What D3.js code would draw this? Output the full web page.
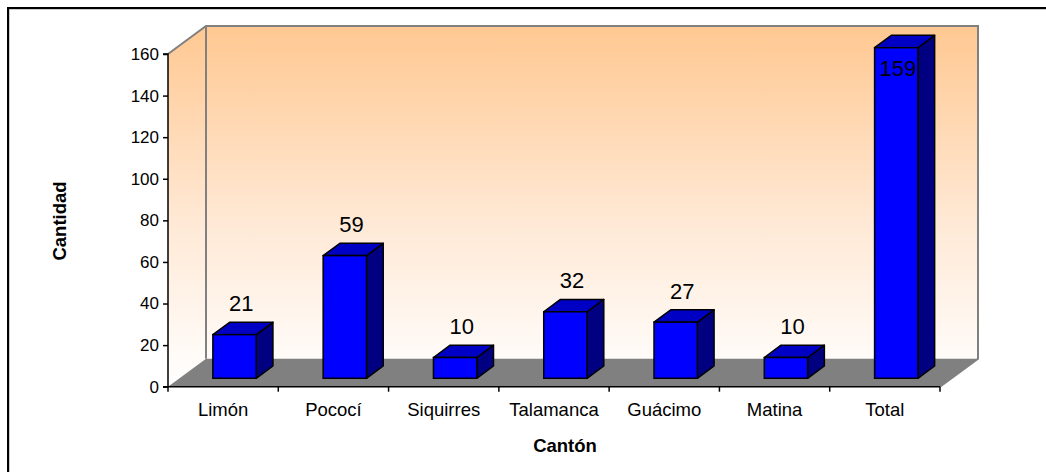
<!DOCTYPE html>
<html><head><meta charset="utf-8">
<script src="https://cdn.jsdelivr.net/npm/d3@7"></script>
<style>
html,body{margin:0;padding:0;background:#fff;}
svg{display:block;font-family:"Liberation Sans",Arial,sans-serif;}
</style></head>
<body>
<svg id="c" width="1046" height="472"></svg>
<script>
const categories = ["Limón","Pococí","Siquirres","Talamanca","Guácimo","Matina","Total"];
const values = [21, 59, 10, 32, 27, 10, 159];
const yTicks = [0,20,40,60,80,100,120,140,160];
const xTitle = "Cantón";
const yTitle = "Cantidad";

const svg = d3.select("#c");
const L = 168, R = 940, B = 386.7, T = 54;
const DX = 38, DY = -28;          // depth of plot box
const x = d3.scaleBand().domain(categories).range([L, R]).paddingInner(0).paddingOuter(0);
const y = d3.scaleLinear().domain([0,160]).range([B, T]);

// outer frame
svg.append("rect").attr("x",9).attr("y",9).attr("width",1060).attr("height",500)
  .attr("fill","none").attr("stroke","#999").attr("stroke-width",1);
svg.append("rect").attr("x",8).attr("y",8).attr("width",1060).attr("height",500)
  .attr("fill","none").attr("stroke","#000").attr("stroke-width",2);

// gradient
const defs = svg.append("defs");
const g1 = defs.append("linearGradient").attr("id","wall").attr("gradientUnits","userSpaceOnUse")
  .attr("x1",0).attr("y1",T+DY).attr("x2",0).attr("y2",B);
g1.append("stop").attr("offset",0).attr("stop-color","#ffc891");
g1.append("stop").attr("offset",0.55).attr("stop-color","#ffe9d6");
g1.append("stop").attr("offset",1).attr("stop-color","#ffffff");

const line = d3.line();
// side wall
svg.append("path").attr("d", line([[L,T],[L+DX,T+DY],[L+DX,B+DY],[L,B]])+"Z")
  .attr("fill","url(#wall)").attr("stroke","none");
// back wall
svg.append("path").attr("d", line([[L+DX,T+DY],[R+DX,T+DY],[R+DX,B+DY],[L+DX,B+DY]])+"Z")
  .attr("fill","url(#wall)").attr("stroke","none");
// floor
svg.append("path").attr("d", line([[L,B],[L+DX,B+DY],[R+DX,B+DY],[R,B]])+"Z")
  .attr("fill","#808080").attr("stroke","none");
// wall edges
const edge = "#808080";
svg.append("path").attr("d", line([[L,T],[L+DX,T+DY],[R+DX,T+DY],[R+DX,B+DY],[R,B]]))
  .attr("fill","none").attr("stroke",edge).attr("stroke-width",2);
svg.append("path").attr("d", line([[L+DX,T+DY],[L+DX,B+DY]]))
  .attr("fill","none").attr("stroke",edge).attr("stroke-width",2);

// bars
const bw = x.bandwidth()*0.393;
const f0 = 0.3, f1 = 0.74;
const ox0 = DX*f0, oy0 = DY*f0, ox1 = DX*f1, oy1 = DY*f1;
const bars = svg.append("g").selectAll("g").data(categories.map((c,i)=>({c, v: values[i]}))).join("g");
bars.each(function(d){
  const g = d3.select(this);
  const cx = x(d.c) + x.bandwidth()/2;
  const xl = cx - bw/2 + ox0, xr = cx + bw/2 + ox0;
  const yb = y(0) + oy0, yt = y(d.v) + oy0;
  const ddx = ox1-ox0, ddy = oy1-oy0;
  // side
  g.append("path").attr("d", line([[xr,yt],[xr+ddx,yt+ddy],[xr+ddx,yb+ddy],[xr,yb]])+"Z")
    .attr("fill","#000080").attr("stroke","#000").attr("stroke-width",1.5).attr("stroke-linejoin","round");
  // top
  g.append("path").attr("d", line([[xl,yt],[xl+ddx,yt+ddy],[xr+ddx,yt+ddy],[xr,yt]])+"Z")
    .attr("fill","#0000c4").attr("stroke","#000").attr("stroke-width",1.5).attr("stroke-linejoin","round");
  // front
  g.append("rect").attr("x",xl).attr("y",yt).attr("width",bw).attr("height",yb-yt)
    .attr("fill","#0000ff").attr("stroke","#000").attr("stroke-width",1.5);
  // label
  let ly = y(d.v) + oy1 - 19, lx = cx + 18;
  if (ly < T + 14) { ly = T + 14; lx = cx + 13; }
  g.append("text").attr("x",lx).attr("y",ly).attr("dy","0.35em").attr("text-anchor","middle")
    .attr("font-size",22).attr("fill","#000").text(d.v);
});

// axes
const yAxis = d3.axisLeft(y).tickValues(yTicks).tickSize(5).tickPadding(4).tickFormat(d3.format("d"));
const ya = svg.append("g").attr("transform",`translate(${L},0)`).call(yAxis);
ya.select(".domain").attr("stroke","#000").attr("stroke-width",1.5).attr("d",`M-5,${T}H0V${B}H-5`);
ya.selectAll(".tick line").attr("stroke","#000").attr("stroke-width",1.5);
ya.selectAll("text").attr("font-size",17).attr("fill","#000").attr("font-family","Liberation Sans, Arial, sans-serif");

const xa = svg.append("g").attr("transform",`translate(0,${B})`);
xa.append("line").attr("x1",L).attr("x2",R).attr("y1",0).attr("y2",0).attr("stroke","#000").attr("stroke-width",1.5);
const bounds = categories.map(c=>x(c)).concat([R]);
xa.selectAll("line.t").data(bounds).join("line").attr("class","t")
  .attr("x1",d=>d).attr("x2",d=>d).attr("y1",0).attr("y2",5).attr("stroke","#000").attr("stroke-width",1.5);
xa.selectAll("text").data(categories).join("text")
  .attr("x",d=>x(d)+x.bandwidth()/2).attr("y",29).attr("text-anchor","middle")
  .attr("font-size",18.5).attr("fill","#000").text(d=>d);

// titles
svg.append("text").attr("x",565).attr("y",452).attr("text-anchor","middle")
  .attr("font-size",18.5).attr("font-weight","bold").text(xTitle);
svg.append("text").attr("transform","translate(66,221) rotate(-90)").attr("text-anchor","middle")
  .attr("font-size",18.5).attr("font-weight","bold").text(yTitle);
</script>
</body></html>
